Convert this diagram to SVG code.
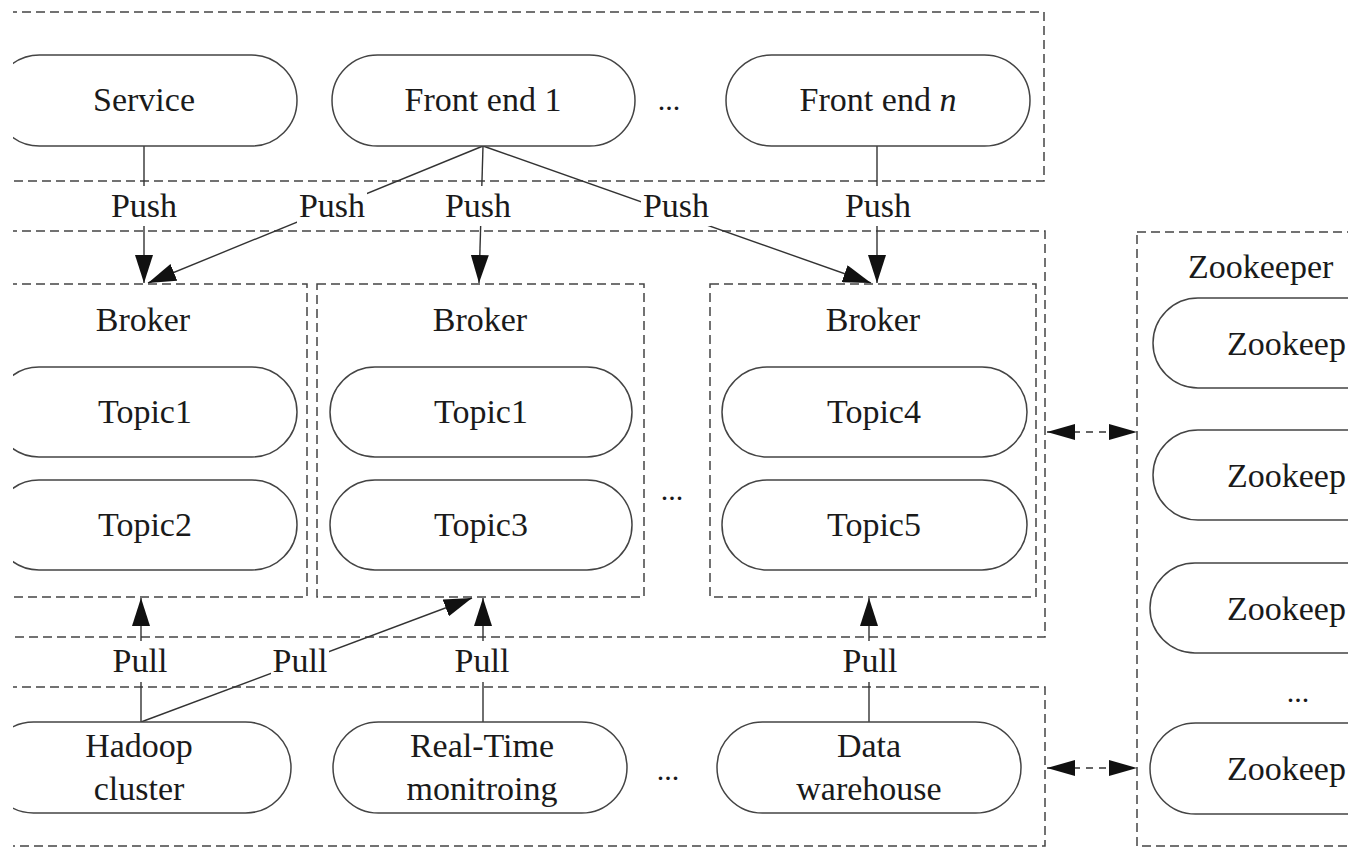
<svg xmlns="http://www.w3.org/2000/svg" width="1348" height="853" viewBox="0 0 1348 853">
<style>
.box{fill:none;stroke:#444;stroke-width:1.5;stroke-dasharray:9 5}
.pill{fill:#fff;stroke:#444;stroke-width:1.5}
.t{font-family:"Liberation Serif","Times New Roman",serif;font-size:34px;fill:#1a1a1a;text-anchor:middle}
.dots{font-family:"Liberation Serif","Times New Roman",serif;font-size:30px;fill:#1a1a1a;text-anchor:middle}
.ln{fill:none;stroke:#333;stroke-width:1.4}
.dl{fill:none;stroke:#333;stroke-width:1.5;stroke-dasharray:7 6}
.lb{fill:#fff}
</style>
<defs>
<clipPath id="c"><rect x="13" y="0" width="1335" height="853"/></clipPath>
<marker id="ah" markerUnits="userSpaceOnUse" viewBox="0 0 28 18" markerWidth="28" markerHeight="18" refX="28" refY="9" orient="auto"><path d="M0,0 L28,9 L0,18 z" fill="#111"/></marker>
<marker id="dh" markerUnits="userSpaceOnUse" viewBox="0 0 28 16" markerWidth="28" markerHeight="16" refX="28" refY="8" orient="auto-start-reverse"><path d="M0,0 L28,8 L0,16 z" fill="#111"/></marker>
</defs>
<rect width="1348" height="853" fill="#fff"/>
<g clip-path="url(#c)">
<g id="groups">
<rect class="box" x="-20" y="12" width="1064" height="169"/>
<rect class="box" x="-20" y="231" width="1065" height="406"/>
<rect class="box" x="-20" y="687" width="1065" height="159"/>
<rect class="box" x="1137" y="232" width="260" height="614"/>
</g>
<g id="connectors">
<line class="ln" x1="144" y1="146" x2="144" y2="283" marker-end="url(#ah)"/>
<line class="ln" x1="483" y1="146" x2="148" y2="283" marker-end="url(#ah)"/>
<line class="ln" x1="483" y1="146" x2="479" y2="283" marker-end="url(#ah)"/>
<line class="ln" x1="483" y1="146" x2="871" y2="283" marker-end="url(#ah)"/>
<line class="ln" x1="877" y1="146" x2="877" y2="283" marker-end="url(#ah)"/>
<line class="ln" x1="141" y1="722" x2="141" y2="598" marker-end="url(#ah)"/>
<line class="ln" x1="141" y1="722" x2="472" y2="598" marker-end="url(#ah)"/>
<line class="ln" x1="483" y1="722" x2="483" y2="598" marker-end="url(#ah)"/>
<line class="ln" x1="869" y1="722" x2="869" y2="598" marker-end="url(#ah)"/>
<line class="dl" x1="1047" y1="432" x2="1137" y2="432" marker-start="url(#dh)" marker-end="url(#dh)"/>
<line class="dl" x1="1047" y1="768" x2="1137" y2="768" marker-start="url(#dh)" marker-end="url(#dh)"/>
<g id="push-labels">
<rect class="lb" x="109" y="186" width="70" height="40"/><text class="t" x="144" y="217">Push</text>
<rect class="lb" x="297" y="186" width="70" height="40"/><text class="t" x="332" y="217">Push</text>
<rect class="lb" x="443" y="186" width="70" height="40"/><text class="t" x="478" y="217">Push</text>
<rect class="lb" x="641" y="186" width="70" height="40"/><text class="t" x="676" y="217">Push</text>
<rect class="lb" x="843" y="186" width="70" height="40"/><text class="t" x="878" y="217">Push</text>
</g>
<g id="pull-labels">
<rect class="lb" x="111" y="641" width="58" height="41"/><text class="t" x="140" y="672">Pull</text>
<rect class="lb" x="271" y="641" width="58" height="41"/><text class="t" x="300" y="672">Pull</text>
<rect class="lb" x="453" y="641" width="58" height="41"/><text class="t" x="482" y="672">Pull</text>
<rect class="lb" x="841" y="641" width="58" height="41"/><text class="t" x="870" y="672">Pull</text>
</g>
</g>
<g id="service"><rect class="pill" x="-6" y="55" width="303" height="91" rx="45.5"/><text class="t" x="144" y="111">Service</text></g>
<g id="frontend1"><rect class="pill" x="332" y="55" width="303" height="91" rx="45.5"/><text class="t" x="483" y="111">Front end 1</text></g>
<text class="dots" x="669" y="110">...</text>
<g id="frontendn"><rect class="pill" x="726" y="55" width="304" height="91" rx="45.5"/><text class="t" x="878" y="111">Front end <tspan font-style="italic">n</tspan></text></g>

<g id="broker1">
<rect class="box" x="-20" y="284" width="327" height="313"/>
<text class="t" x="143" y="331">Broker</text>
<rect class="pill" x="-6" y="367" width="303" height="90" rx="45"/><text class="t" x="145" y="423">Topic1</text>
<rect class="pill" x="-6" y="480" width="303" height="90" rx="45"/><text class="t" x="145" y="536">Topic2</text>
</g>
<g id="broker2">
<rect class="box" x="317" y="284" width="327" height="313"/>
<text class="t" x="480" y="331">Broker</text>
<rect class="pill" x="330" y="367" width="302" height="90" rx="45"/><text class="t" x="481" y="423">Topic1</text>
<rect class="pill" x="330" y="480" width="302" height="90" rx="45"/><text class="t" x="481" y="536">Topic3</text>
</g>
<text class="dots" x="672" y="500">...</text>
<g id="broker3">
<rect class="box" x="710" y="284" width="326" height="313"/>
<text class="t" x="873" y="331">Broker</text>
<rect class="pill" x="722" y="367" width="305" height="90" rx="45"/><text class="t" x="874" y="423">Topic4</text>
<rect class="pill" x="722" y="480" width="305" height="90" rx="45"/><text class="t" x="874" y="536">Topic5</text>
</g>

<g id="hadoop"><rect class="pill" x="-12" y="722" width="303" height="91" rx="45.5"/><text class="t" x="139" y="757">Hadoop</text><text class="t" x="139" y="800">cluster</text></g>
<g id="realtime"><rect class="pill" x="333" y="722" width="294" height="91" rx="45.5"/><text class="t" x="482" y="757">Real-Time</text><text class="t" x="482" y="800">monitroing</text></g>
<text class="dots" x="668" y="780">...</text>
<g id="warehouse"><rect class="pill" x="717" y="722" width="304" height="91" rx="45.5"/><text class="t" x="869" y="757">Data</text><text class="t" x="869" y="800">warehouse</text></g>

<g id="zookeeper">
<text class="t" x="1188" y="278" style="text-anchor:start">Zookeeper</text>
<rect class="pill" x="1153" y="298" width="303" height="90" rx="45"/><text class="t" x="1227" y="355" style="text-anchor:start">Zookeep</text>
<rect class="pill" x="1153" y="430" width="303" height="90" rx="45"/><text class="t" x="1227" y="487" style="text-anchor:start">Zookeep</text>
<rect class="pill" x="1150" y="563" width="303" height="90" rx="45"/><text class="t" x="1227" y="620" style="text-anchor:start">Zookeep</text>
<text class="dots" x="1298" y="702">...</text>
<rect class="pill" x="1150" y="723" width="303" height="91" rx="45.5"/><text class="t" x="1227" y="780" style="text-anchor:start">Zookeep</text>
</g>
</g>
</svg>
